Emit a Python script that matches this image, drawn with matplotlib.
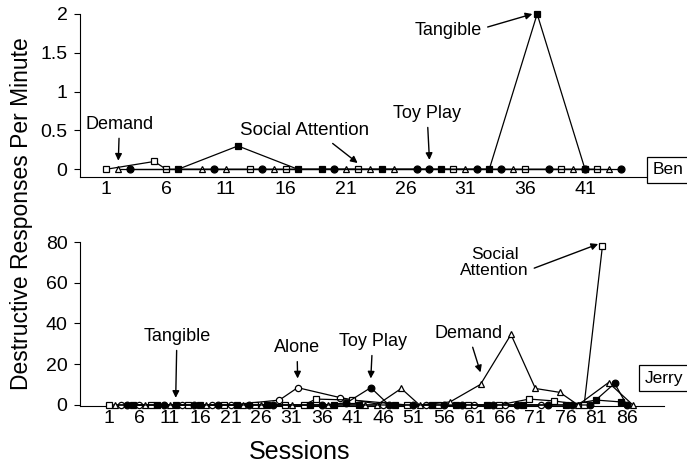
import numpy as np
import matplotlib.pyplot as plt

plt.rcParams['font.family'] = ['Liberation Sans', 'DejaVu Sans']

'''dati Ben (pannello superiore)'''
ben_demand_x = [2, 9, 11, 15, 21, 23, 25, 31, 35, 40, 43]
ben_demand_y = [0, 0, 0, 0, 0, 0, 0, 0, 0, 0, 0]
ben_social_x = [1, 5, 6, 13, 16, 22, 30, 36, 39, 42]
ben_social_y = [0, 0.1, 0, 0, 0, 0, 0, 0, 0, 0]
ben_toy_x = [3, 10, 14, 20, 27, 28, 32, 34, 38, 41, 44]
ben_toy_y = [0, 0, 0, 0, 0, 0, 0, 0, 0, 0, 0]
ben_tang_x = [7, 12, 17, 19, 24, 29, 33, 37, 41]
ben_tang_y = [0, 0.3, 0, 0, 0, 0, 0, 2.0, 0]

'''dati Jerry (pannello inferiore)'''
jer_alone_x = [3, 6, 13, 18, 21, 29, 32, 39, 46, 53, 61, 66, 72]
jer_alone_y = [0, 0, 0, 0, 0, 2.4, 8.5, 3.6, 0, 0, 0, 0, 0]
jer_social_x = [1, 8, 14, 20, 25, 30, 33, 35, 41, 50, 55, 60, 65, 70, 74, 79, 82]
jer_social_y = [0, 0, 0, 0, 0, 0, 0, 2.9, 2.4, 0, 0, 0, 0, 2.9, 2.0, 0, 78]
jer_toy_x = [4, 10, 15, 19, 24, 28, 36, 40, 44, 47, 51, 56, 59, 64, 68, 73, 77, 80, 84, 86]
jer_toy_y = [0, 0, 0, 0, 0, 0, 0, 1.0, 8.5, 0, 0, 0, 0, 0, 0, 0, 0, 0, 10.6, 0]
jer_demand_x = [2, 7, 11, 17, 23, 26, 31, 37, 43, 45, 49, 52, 57, 62, 67, 71, 75, 78, 83, 87]
jer_demand_y = [0, 0, 0, 0, 0, 0, 0, 0, 0, 0, 8.1, 0, 1.5, 10.1, 34.6, 8.1, 6.2, 0, 11, 0]
jer_tang_x = [5, 9, 12, 16, 22, 27, 34, 38, 42, 48, 54, 58, 63, 69, 76, 81, 85]
jer_tang_y = [0, 0, 0, 0, 0, 0, 0, 0, 0, 0, 0, 0, 0, 0, 0, 2.4, 1.5]

ben_ticks = np.arange(1, 42, 5)
jer_ticks = np.arange(1, 87, 5)

fig = plt.figure(figsize=(6.87, 4.63), dpi=100)
ax1 = fig.add_axes([80/687, 286/463, 584/687, 163/463])
ax2 = fig.add_axes([80/687, 57/463, 584/687, 164/463])

def serie(ax, x, y, m, fill, ms):
    ax.plot(x, y, color='k', lw=0.9, marker=m, ms=ms, mfc=fill, mec='k',
            mew=0.9, clip_on=False, zorder=3)

#Ben
serie(ax1, ben_social_x, ben_social_y, 's', 'white', 4.5)
serie(ax1, ben_demand_x, ben_demand_y, '^', 'white', 5)
serie(ax1, ben_toy_x, ben_toy_y, 'o', 'k', 5)
serie(ax1, ben_tang_x, ben_tang_y, 's', 'k', 4.5)

#Jerry
serie(ax2, jer_alone_x, jer_alone_y, 'o', 'white', 4.5)
serie(ax2, jer_social_x, jer_social_y, 's', 'white', 4.2)
serie(ax2, jer_toy_x, jer_toy_y, 'o', 'k', 4.8)
serie(ax2, jer_demand_x, jer_demand_y, '^', 'white', 5)
serie(ax2, jer_tang_x, jer_tang_y, 's', 'k', 4.5)

ax1.set_xlim(-1.2, 47.6)
ax1.set_ylim(-0.1, 2.0)
ax1.set_yticks([0, 0.5, 1, 1.5, 2])
ax1.set_yticklabels(['0', '0.5', '1', '1.5', '2'])
ax1.set_xticks(ben_ticks)

ax2.set_xlim(-3.7, 92.1)
ax2.set_ylim(-0.5, 80)
ax2.set_yticks([0, 20, 40, 60, 80])
ax2.set_xticks(jer_ticks)

for ax in (ax1, ax2):
    ax.spines['top'].set_visible(False)
    ax.spines['right'].set_visible(False)
    ax.tick_params(axis='y', direction='out', length=4, labelsize=14, pad=5)
    ax.tick_params(axis='x', length=0, labelsize=14, pad=3)

arr = dict(arrowstyle='-|>', color='k', lw=1, mutation_scale=10, shrinkA=2, shrinkB=0)

#annotazioni Ben
ax1.annotate('Demand', xy=(2, 0.11), xytext=(2.1, 0.47), ha='center', va='bottom',
             fontsize=13, arrowprops=arr)
ax1.annotate('Social Attention', xy=(22, 0.08), xytext=(17.6, 0.39), ha='center', va='bottom',
             fontsize=13.5, arrowprops=dict(arr, relpos=(0.67, 0)))
ax1.annotate('Toy Play', xy=(28, 0.12), xytext=(27.8, 0.61), ha='center', va='bottom',
             fontsize=13, arrowprops=arr)
ax1.annotate('Tangible', xy=(36.6, 2.0), xytext=(29.6, 1.79), ha='center', va='center',
             fontsize=13, arrowprops=dict(arr, relpos=(1, 0.6)))

#annotazioni Jerry
ax2.annotate('Tangible', xy=(12, 3.5), xytext=(12.2, 29.5), ha='center', va='bottom',
             fontsize=13, arrowprops=arr)
ax2.annotate('Alone', xy=(32, 13), xytext=(31.9, 24), ha='center', va='bottom',
             fontsize=13, arrowprops=arr)
ax2.annotate('Toy Play', xy=(44, 13), xytext=(44.3, 27), ha='center', va='bottom',
             fontsize=13, arrowprops=arr)
ax2.annotate('Demand', xy=(62, 16), xytext=(60, 31), ha='center', va='bottom',
             fontsize=13, arrowprops=arr)
ax2.annotate('Social\nAttention', xy=(81.3, 79), xytext=(64.3, 70), ha='center', va='center',
             fontsize=12.5, linespacing=1.1, arrowprops=dict(arr, relpos=(1, 0.25)))

box = dict(boxstyle='square,pad=0.3', fc='white', ec='k', lw=0.9)
fig.text(683/687, 1 - 170/463, 'Ben', ha='right', va='center', fontsize=12.5,
         bbox=box, zorder=5)
fig.text(683/687, 1 - 378/463, 'Jerry', ha='right', va='center', fontsize=12.5,
         bbox=box, zorder=5)

fig.text(22/687, 1 - 214/463, 'Destructive Responses Per Minute', rotation=90,
         ha='center', va='center', fontsize=16.5)
fig.text(300/687, 1 - 452/463, 'Sessions', ha='center', va='center', fontsize=18)

fig.savefig('out.png', dpi=100)
